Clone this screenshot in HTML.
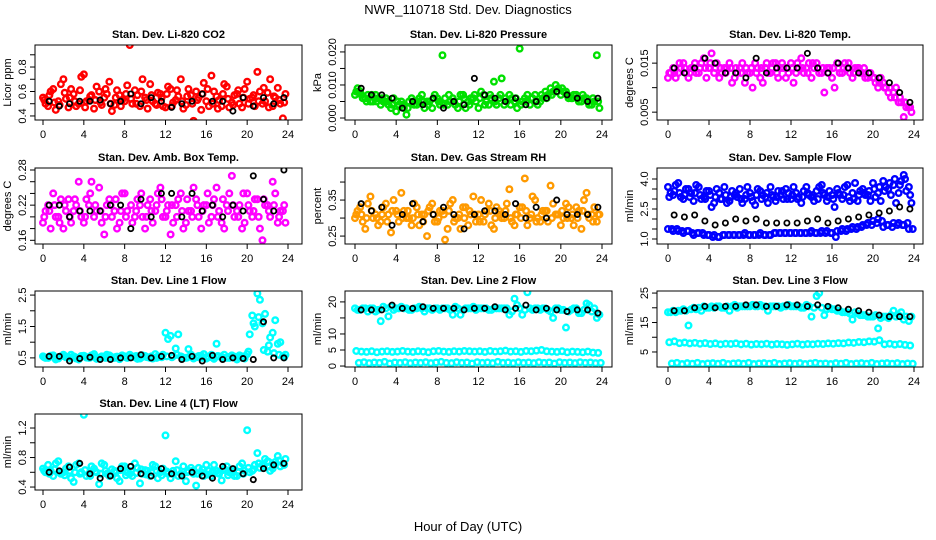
<!DOCTYPE html>
<html><head><meta charset="utf-8"><style>
html,body{margin:0;padding:0;background:#fff;}
svg{display:block;font-family:"Liberation Sans",Arial,sans-serif;}
</style></head><body>
<svg id="chart" width="936" height="540" viewBox="0 0 936 540" xmlns="http://www.w3.org/2000/svg">
<text x="468" y="14" text-anchor="middle" font-size="13">NWR_110718 Std. Dev. Diagnostics</text>
<text x="468" y="531" text-anchor="middle" font-size="13">Hour of Day (UTC)</text>
</svg>
<script>
// ---- data ----
const xTicks = [0,4,8,12,16,20,24];
const co2A = [0.55,0.48,0.62,0.52,0.70,0.47,0.58,0.50,0.74,0.53,0.46,0.60,0.55,0.68,0.49,0.57,0.52,0.98,0.61,0.48,0.55,0.66,0.50,0.58,0.47,0.62,0.53,0.70,0.49,0.57,0.60,0.45,0.52,0.73,0.56,0.48,0.64,0.51,0.58,0.47,0.68,0.55,0.76,0.50,0.59,0.48,0.63,0.38];
const co2B = [0.50,0.60,0.45,0.66,0.54,0.62,0.48,0.72,0.52,0.57,0.64,0.49,0.58,0.44,0.61,0.53,0.65,0.50,0.57,0.70,0.46,0.52,0.59,0.48,0.64,0.51,0.56,0.46,0.62,0.36,0.55,0.67,0.48,0.60,0.53,0.66,0.47,0.57,0.50,0.62,0.54,0.48,0.60,0.52,0.70,0.55,0.50,0.58];
const co2C = [0.53,0.57,0.51,0.49,0.59,0.55,0.52,0.61,0.47,0.56,0.53,0.51,0.62,0.50,0.55,0.48,0.58,0.54,0.50,0.60,0.53,0.57,0.49,0.55,0.58,0.48,0.61,0.52,0.56,0.50,0.53,0.58,0.62,0.50,0.46,0.58,0.54,0.49,0.61,0.55,0.50,0.57,0.52,0.63,0.47,0.56,0.53,0.51];
const co2K = [0.52,0.48,0.50,0.52,0.52,0.53,0.50,0.52,0.58,0.50,0.55,0.52,0.47,0.50,0.52,0.58,0.52,0.52,0.44,0.55,0.48,0.55,0.50,0.55];
const presA = [0.007,0.008,0.006,0.005,0.007,0.004,0.006,0.003,0.002,0.005,0.001,0.006,0.004,0.007,0.005,0.003,0.006,0.019,0.004,0.006,0.003,0.007,0.005,0.006,0.003,0.007,0.004,0.011,0.006,0.004,0.007,0.005,0.021,0.006,0.004,0.007,0.005,0.008,0.009,0.010,0.007,0.008,0.006,0.007,0.005,0.006,0.004,0.019];
const presB = [0.009,0.006,0.007,0.005,0.006,0.005,0.004,0.006,0.004,0.003,0.005,0.004,0.006,0.003,0.005,0.007,0.004,0.006,0.005,0.004,0.007,0.003,0.006,0.005,0.008,0.005,0.006,0.004,0.012,0.005,0.006,0.003,0.005,0.007,0.006,0.004,0.006,0.007,0.008,0.009,0.008,0.006,0.007,0.005,0.006,0.004,0.005,0.003];
const presC = [0.008,0.007,0.005,0.007,0.005,0.006,0.005,0.004,0.005,0.004,0.003,0.005,0.005,0.005,0.004,0.006,0.005,0.004,0.007,0.005,0.005,0.006,0.004,0.007,0.006,0.004,0.007,0.005,0.007,0.006,0.004,0.006,0.004,0.005,0.006,0.005,0.007,0.006,0.007,0.008,0.009,0.007,0.006,0.006,0.007,0.005,0.006,0.005];
const presK = [0.009,0.007,0.007,0.006,0.003,0.005,0.004,0.006,0.003,0.005,0.004,0.012,0.007,0.006,0.005,0.006,0.004,0.005,0.006,0.008,0.007,0.006,0.005,0.006];
const tempA = [0.012,0.014,0.013,0.015,0.012,0.014,0.013,0.016,0.014,0.013,0.012,0.014,0.015,0.012,0.014,0.011,0.013,0.015,0.012,0.014,0.013,0.015,0.014,0.012,0.015,0.013,0.016,0.014,0.012,0.015,0.013,0.014,0.012,0.015,0.013,0.014,0.012,0.014,0.013,0.012,0.012,0.010,0.011,0.009,0.009,0.007,0.004,0.006];
const tempB = [0.013,0.012,0.014,0.013,0.014,0.013,0.015,0.012,0.017,0.015,0.013,0.014,0.011,0.013,0.015,0.013,0.010,0.014,0.011,0.013,0.015,0.012,0.014,0.013,0.011,0.014,0.013,0.015,0.014,0.013,0.009,0.014,0.010,0.013,0.015,0.013,0.014,0.013,0.012,0.013,0.011,0.012,0.010,0.008,0.010,0.007,0.006,0.005];
const tempC = [0.013,0.013,0.015,0.014,0.013,0.015,0.014,0.014,0.015,0.014,0.014,0.013,0.014,0.014,0.013,0.014,0.014,0.013,0.014,0.015,0.014,0.013,0.015,0.014,0.014,0.015,0.014,0.013,0.015,0.014,0.014,0.013,0.014,0.014,0.014,0.015,0.013,0.014,0.014,0.013,0.012,0.011,0.010,0.010,0.008,0.008,0.007,0.006];
const tempK = [0.014,0.013,0.014,0.016,0.015,0.013,0.013,0.012,0.016,0.013,0.014,0.014,0.014,0.017,0.014,0.013,0.015,0.014,0.013,0.013,0.012,0.011,0.009,0.007];
const ambA = [0.19,0.22,0.24,0.20,0.18,0.23,0.21,0.26,0.19,0.22,0.20,0.25,0.17,0.23,0.21,0.19,0.24,0.29,0.20,0.22,0.18,0.23,0.21,0.25,0.20,0.17,0.22,0.24,0.19,0.21,0.23,0.18,0.22,0.20,0.25,0.19,0.22,0.27,0.21,0.18,0.24,0.20,0.23,0.16,0.22,0.26,0.19,0.21];
const ambB = [0.21,0.18,0.20,0.23,0.21,0.19,0.22,0.20,0.23,0.26,0.21,0.19,0.22,0.20,0.18,0.24,0.21,0.19,0.23,0.20,0.22,0.19,0.24,0.20,0.22,0.19,0.23,0.18,0.21,0.25,0.20,0.22,0.19,0.23,0.21,0.18,0.24,0.20,0.22,0.19,0.21,0.23,0.18,0.22,0.20,0.24,0.21,0.19];
const ambC = [0.20,0.21,0.22,0.19,0.22,0.20,0.23,0.21,0.20,0.24,0.22,0.21,0.20,0.22,0.23,0.21,0.20,0.22,0.21,0.24,0.20,0.21,0.22,0.23,0.21,0.22,0.20,0.21,0.23,0.20,0.22,0.21,0.24,0.22,0.20,0.23,0.21,0.22,0.20,0.24,0.22,0.21,0.20,0.23,0.21,0.22,0.20,0.22];
const ambK = [0.22,0.22,0.20,0.21,0.21,0.21,0.22,0.22,0.18,0.23,0.20,0.24,0.24,0.20,0.24,0.21,0.22,0.20,0.22,0.21,0.27,0.23,0.21,0.28];
const rhA = [0.30,0.33,0.27,0.36,0.31,0.29,0.34,0.26,0.32,0.37,0.30,0.28,0.33,0.31,0.25,0.34,0.29,0.32,0.27,0.35,0.30,0.33,0.28,0.36,0.31,0.29,0.34,0.27,0.32,0.30,0.38,0.28,0.33,0.41,0.30,0.35,0.29,0.32,0.39,0.31,0.28,0.34,0.30,0.33,0.27,0.37,0.31,0.29];
const rhB = [0.32,0.29,0.34,0.30,0.28,0.33,0.31,0.35,0.29,0.32,0.30,0.34,0.28,0.31,0.33,0.29,0.32,0.24,0.34,0.30,0.27,0.33,0.31,0.29,0.35,0.32,0.28,0.33,0.30,0.34,0.29,0.31,0.33,0.28,0.36,0.30,0.32,0.29,0.34,0.31,0.30,0.33,0.28,0.32,0.35,0.30,0.33,0.31];
const rhC = [0.31,0.31,0.30,0.32,0.30,0.31,0.29,0.32,0.31,0.30,0.32,0.30,0.31,0.29,0.32,0.31,0.30,0.31,0.32,0.29,0.31,0.30,0.32,0.31,0.29,0.31,0.32,0.30,0.31,0.32,0.30,0.31,0.30,0.32,0.31,0.29,0.31,0.32,0.30,0.31,0.32,0.30,0.31,0.30,0.32,0.31,0.29,0.31];
const rhK = [0.34,0.32,0.33,0.28,0.31,0.34,0.29,0.31,0.33,0.31,0.27,0.31,0.32,0.32,0.31,0.34,0.30,0.33,0.30,0.35,0.31,0.31,0.31,0.33];
const sfUpA = [3.6,3.2,3.8,3.0,3.5,2.9,3.6,3.1,3.4,2.8,3.3,3.6,2.9,3.2,3.5,3.0,3.3,2.7,3.4,3.1,3.6,2.9,3.2,3.5,3.0,3.3,2.8,3.6,3.1,3.4,3.7,2.9,3.2,3.5,3.0,3.7,3.3,2.9,3.5,3.2,3.8,3.3,3.9,3.5,3.7,3.3,4.2,3.6];
const sfUpB = [3.3,3.7,3.1,3.5,3.3,3.7,3.0,3.4,2.6,3.5,3.0,2.8,3.4,3.1,2.8,3.6,2.9,3.5,3.2,2.8,3.1,3.4,3.0,3.3,3.6,3.1,3.4,3.2,2.9,3.6,3.2,3.4,2.6,3.2,3.6,2.9,3.8,3.4,3.2,2.9,3.1,2.9,3.6,3.2,2.8,3.9,3.4,2.8];
const sfUpC = [3.1,3.4,3.3,3.2,3.1,3.3,3.2,3.0,3.2,3.1,3.0,3.2,3.1,3.3,3.0,3.2,3.1,3.2,3.0,3.3,3.2,3.1,3.4,3.0,3.2,3.0,3.1,3.3,3.2,3.0,3.3,3.1,3.0,3.3,3.2,3.1,3.0,3.2,3.3,3.4,3.5,3.6,3.4,3.8,4.0,3.7,4.0,3.2];
const sfLoA = [1.5,1.5,1.4,1.4,1.3,1.3,1.3,1.2,1.1,1.1,1.2,1.2,1.2,1.2,1.2,1.2,1.2,1.2,1.2,1.2,1.3,1.3,1.3,1.3,1.3,1.3,1.3,1.3,1.3,1.3,1.3,1.3,1.1,1.4,1.4,1.5,1.5,1.6,1.7,1.7,1.8,1.9,1.7,1.6,1.7,1.7,1.8,1.5];
const sfLoB = [1.5,1.4,1.4,1.3,1.4,1.2,1.3,1.2,1.2,1.2,1.1,1.2,1.2,1.2,1.2,1.3,1.2,1.2,1.3,1.2,1.2,1.3,1.3,1.3,1.3,1.3,1.3,1.3,1.4,1.3,1.4,1.4,1.3,1.4,1.5,1.5,1.6,1.6,1.7,1.8,1.9,2.0,1.6,1.7,1.8,1.8,1.7,1.5];
const sfK = [2.2,2.1,2.2,1.9,1.7,1.8,2.0,1.9,2.0,1.8,1.8,1.8,1.8,1.9,2.0,1.8,1.9,2.0,2.1,2.2,2.3,2.4,2.6,2.5];
const l1A = [0.55,0.50,0.58,0.48,0.60,0.52,0.55,0.45,0.57,0.50,0.62,0.48,0.53,0.58,0.50,0.46,0.55,0.60,0.52,0.48,0.56,0.50,0.62,0.53,1.30,1.20,0.80,0.55,0.50,0.60,0.52,0.57,0.48,0.60,0.95,0.53,0.50,0.58,0.45,0.55,0.62,1.85,2.55,1.60,0.70,1.30,0.95,0.55];
const l1B = [0.50,0.57,0.45,0.55,0.52,0.60,0.48,0.56,0.51,0.58,0.47,0.55,0.60,0.49,0.54,0.58,0.50,0.55,0.47,0.58,0.52,0.48,0.55,0.60,1.10,0.55,1.25,0.50,0.78,0.48,0.56,0.62,0.52,0.47,0.55,0.60,0.50,0.54,0.58,0.48,1.25,1.50,2.35,1.90,1.15,1.70,1.00,0.60];
const l1C = [0.52,0.54,0.51,0.53,0.56,0.50,0.53,0.52,0.55,0.51,0.54,0.52,0.50,0.55,0.53,0.51,0.52,0.54,0.56,0.51,0.53,0.55,0.50,0.52,0.55,0.52,0.60,0.53,0.51,0.55,0.53,0.50,0.54,0.52,0.56,0.51,0.53,0.55,0.52,0.50,0.70,1.60,1.80,0.75,0.90,0.65,0.60,0.52];
const l1K = [0.55,0.55,0.40,0.48,0.52,0.45,0.45,0.50,0.50,0.60,0.50,0.55,0.58,0.45,0.55,0.40,0.58,0.45,0.50,0.48,0.45,1.65,0.50,0.50];
const l2TopA = [18,17.5,18,18,17,14,18,18.5,18,18.5,18,17.5,18,18,18,17.5,18,18,18,16,18,17.5,18,18.5,18,18,17.5,18,18,18,16,21,18,17.5,18,18,17.5,18,17,18,17.5,12,17.5,18,16.5,19.5,17,15];
const l2TopB = [17.5,18,17,18,17.5,18.5,15.5,17.5,18,18,17.5,18,18.5,17,18,18,17.5,18,17.5,18.5,16,18,18,17.5,18,18,17.5,18,18,18,17,19,16,23,17.5,18,18,17.5,15,18,17.5,17,18,16.5,17.5,19,18,16];
const l2Mid = [4.7,4.5,4.4,4.6,4.3,4.5,4.6,4.4,4.5,4.7,4.5,4.4,4.6,4.5,4.3,4.6,4.7,4.5,4.4,4.6,4.5,4.7,4.6,4.5,4.6,4.4,4.7,4.5,4.6,4.8,4.5,4.6,4.4,4.7,4.6,4.8,5.0,4.6,4.5,4.4,4.6,4.3,4.5,4.4,4.3,4.5,4.2,4.1];
const l2Low = [1.0,1.2,0.9,1.1,1.0,1.3,0.8,1.1,1.0,1.2,0.9,1.1,1.0,1.2,0.9,1.1,1.3,1.0,0.9,1.2,1.0,1.1,0.8,1.2,1.0,1.1,0.9,1.3,1.0,1.1,0.9,1.2,1.0,1.1,0.9,1.2,1.0,1.1,0.8,1.2,1.0,1.1,0.9,1.2,1.0,1.1,0.9,1.0];
const l2K = [17.5,17.5,17.5,19,18,18,18.5,18,18,18,17.5,18,18,18.5,17.5,18,19,17.5,18,17.5,17,17.5,17.5,16.5];
const l3TopA = [18.5,19,19,19.5,14,20,20,20.5,20,20,20.5,20,19,21,20.5,20.5,20.5,20.5,21,20.5,20.5,20.5,20,20.5,20.5,20.5,20,21,17,24,20,19.5,19.5,19,18.5,18.5,16,18,17.5,17,17,13,17,16.5,19,17.5,16,15.5];
const l3TopB = [18.5,18.5,19,19,19.5,19.5,19,20,20.5,20.5,20,20.5,20.5,20,20.5,20.5,21,20.5,20.5,19,20.5,20.5,20.5,21,20.5,20.5,20,20.5,20,25,17.5,20,19.5,19,18.5,18,18.5,17.5,17.5,17,17.5,16.5,17,17.5,17,18.5,17,17];
const l3Mid = [8.3,8.6,8.0,8.2,7.9,8.1,7.8,8.0,7.7,7.9,7.6,7.8,7.7,7.9,7.6,7.8,7.5,7.7,7.6,7.8,7.5,7.7,7.6,7.4,7.6,7.8,7.5,7.7,7.6,7.8,7.7,7.9,7.8,8.0,7.9,8.2,8.1,8.4,8.3,8.6,8.5,9.0,7.6,7.8,7.5,7.7,7.4,7.2];
const l3Low = [1.1,1.3,0.9,1.2,1.0,1.3,0.9,1.1,1.2,1.0,1.3,0.9,1.1,1.2,1.0,1.3,0.9,1.1,1.2,1.0,1.3,0.9,1.1,1.2,1.0,1.2,0.9,1.1,1.3,1.0,1.1,0.9,1.2,1.0,1.3,0.9,1.1,1.2,1.0,1.3,0.9,1.1,1.2,1.0,1.2,0.9,1.1,1.0];
const l3K = [19,19,20,20.5,20,20.5,20.5,21,21,20.5,20.5,21,21,20.5,21,20.5,20,19.5,19,18.5,17.5,17,17,17];
const l4A = [0.65,0.70,0.55,0.75,0.60,0.68,0.47,0.72,1.38,0.58,0.65,0.44,0.70,0.55,0.62,0.48,0.68,0.58,0.72,0.45,0.63,0.55,0.68,0.60,1.10,0.52,0.75,0.58,0.48,0.66,0.42,0.60,0.70,0.55,0.62,0.49,0.68,0.60,0.55,0.72,1.17,0.62,0.86,0.70,0.75,0.65,0.82,0.72];
const l4B = [0.60,0.62,0.72,0.58,0.65,0.52,0.70,0.60,0.55,0.68,0.60,0.72,0.58,0.64,0.52,0.68,0.60,0.55,0.66,0.58,0.62,0.70,0.52,0.65,0.58,0.62,0.55,0.68,0.62,0.58,0.66,0.55,0.62,0.70,0.58,0.65,0.60,0.55,0.68,0.62,0.60,0.70,0.66,0.78,0.62,0.74,0.68,0.78];
const l4C = [0.62,0.58,0.64,0.60,0.56,0.62,0.60,0.58,0.63,0.55,0.61,0.58,0.62,0.57,0.60,0.63,0.56,0.62,0.59,0.64,0.57,0.60,0.62,0.56,0.61,0.58,0.63,0.57,0.60,0.62,0.58,0.64,0.57,0.61,0.59,0.63,0.56,0.62,0.60,0.58,0.66,0.64,0.72,0.68,0.74,0.70,0.76,0.70];
const l4K = [0.60,0.62,0.67,0.72,0.58,0.52,0.55,0.65,0.68,0.58,0.55,0.65,0.58,0.55,0.60,0.55,0.52,0.68,0.65,0.58,0.50,0.65,0.70,0.72];

// ---- layout ----
const NS = "http://www.w3.org/2000/svg";
const svg = document.getElementById('chart');
const cols = [{l:35,r:302,x0:43,x24:288},{l:345,r:612,x0:355,x24:602},{l:657,r:923,x0:668,x24:914}];
const rows = [{t:45,b:120},{t:168,b:244},{t:291,b:367},{t:414,b:490}];
const seriesOffsets = [0,0.25,0.125,0.375];
function el(tag, attrs, parent){const e=document.createElementNS(NS,tag);for(const k in attrs)e.setAttribute(k,attrs[k]);(parent||svg).appendChild(e);return e;}

const panels = [
 {name:'co2',title:'Stan. Dev. Li-820 CO2',ylab:'Licor ppm',c:0,r:0,ymin:0.367,ymax:0.98,ticks:[0.4,0.5,0.6,0.7,0.8,0.9],labels:[0.4,0.6,0.8],fmt:1,color:'#ff0000',series:[co2A,co2B,co2C],black:co2K},
 {name:'pressure',title:'Stan. Dev. Li-820 Pressure',ylab:'kPa',c:1,r:0,ymin:-0.0006,ymax:0.0221,ticks:[0,0.005,0.01,0.015,0.02],labels:[0,0.01,0.02],fmt:3,color:'#00e000',series:[presA,presB,presC],black:presK},
 {name:'li820-temp',title:'Stan. Dev. Li-820 Temp.',ylab:'degrees C',c:2,r:0,ymin:0.0034,ymax:0.0187,ticks:[0.005,0.01,0.015],labels:[0.005,0.015],fmt:3,color:'#ff00ff',series:[tempA,tempB,tempC],black:tempK},
 {name:'amb-box-temp',title:'Stan. Dev. Amb. Box Temp.',ylab:'degrees C',c:0,r:1,ymin:0.1537,ymax:0.2834,ticks:[0.16,0.18,0.2,0.22,0.24,0.26,0.28],labels:[0.16,0.22,0.28],fmt:2,color:'#ff00ff',series:[ambA,ambB,ambC],black:ambK},
 {name:'gas-stream-rh',title:'Stan. Dev. Gas Stream RH',ylab:'percent',c:1,r:1,ymin:0.228,ymax:0.439,ticks:[0.25,0.3,0.35,0.4],labels:[0.25,0.35],fmt:2,color:'#ff9a00',series:[rhA,rhB,rhC],black:rhK},
 {name:'sample-flow',title:'Stan. Dev. Sample Flow',ylab:'ml/min',c:2,r:1,ymin:0.75,ymax:4.55,ticks:[1,1.5,2,2.5,3,3.5,4],labels:[1,2.5,4],fmt:1,color:'#0000ff',series:[sfUpA,sfUpB,sfUpC,sfLoA,sfLoB],black:sfK},
 {name:'line1-flow',title:'Stan. Dev. Line 1 Flow',ylab:'ml/min',c:0,r:2,ymin:0.21,ymax:2.63,ticks:[0.5,1,1.5,2,2.5],labels:[0.5,1.5,2.5],fmt:1,color:'#00ffff',series:[l1A,l1B,l1C],black:l1K},
 {name:'line2-flow',title:'Stan. Dev. Line 2 Flow',ylab:'ml/min',c:1,r:2,ymin:-0.3,ymax:23.4,ticks:[0,5,10,15,20],labels:[0,5,10,20],fmt:0,color:'#00ffff',series:[l2TopA,l2TopB,l2Mid,l2Low],black:l2K},
 {name:'line3-flow',title:'Stan. Dev. Line 3 Flow',ylab:'ml/min',c:2,r:2,ymin:-0.1,ymax:25.7,ticks:[5,10,15,20,25],labels:[5,15,25],fmt:0,color:'#00ffff',series:[l3TopA,l3TopB,l3Mid,l3Low],black:l3K},
 {name:'line4-flow',title:'Stan. Dev. Line 4 (LT) Flow',ylab:'ml/min',c:0,r:3,ymin:0.36,ymax:1.39,ticks:[0.4,0.6,0.8,1,1.2],labels:[0.4,0.8,1.2],fmt:1,color:'#00ffff',series:[l4A,l4B,l4C],black:l4K}
];

panels.forEach(p=>{
  const C=cols[p.c], R=rows[p.r];
  const g=el('g',{});
  
  
  const xs=h=>C.x0+(C.x24-C.x0)*h/24;
  const ys=v=>R.b-(v-p.ymin)/(p.ymax-p.ymin)*(R.b-R.t);
  const t=el('text',{x:(C.l+C.r)/2,y:R.t-7,'text-anchor':'middle','font-size':11,'font-weight':'bold'},g);
  t.textContent=p.title;
  
  
  const cp=el('clipPath',{id:'cp'+p.name},g);
  el('rect',{x:C.l,y:R.t,width:C.r-C.l,height:R.b-R.t},cp);
  const pts=el('g',{'clip-path':'url(#cp'+p.name+')'},g);
  p.series.forEach((s,si)=>{
    const off=seriesOffsets[si%4];
    s.forEach((v,i)=>{
      const h=i*0.5+off;
      const c=el('circle',{cx:xs(h),cy:ys(v),r:2.8,fill:'none',stroke:p.color,'stroke-width':2.4},pts);
      
      
    });
  });
  p.black.forEach((v,i)=>{
    const c=el('circle',{cx:xs(i+0.6),cy:ys(v),r:2.6,fill:'none',stroke:'#000','stroke-width':1.8},pts);
    
    
  });
  el('rect',{x:C.l,y:R.t,width:C.r-C.l,height:R.b-R.t,fill:'none',stroke:'#000','stroke-width':1},g);
  el('line',{x1:xs(0),x2:xs(24),y1:R.b,y2:R.b,stroke:'#000'},g);
  xTicks.forEach(h=>{
    el('line',{x1:xs(h),x2:xs(h),y1:R.b,y2:R.b+5,stroke:'#000'},g);
    const tx=el('text',{x:xs(h),y:R.b+18,'text-anchor':'middle','font-size':11},g);
    tx.textContent=h;
    
    
  });
  p.ticks.forEach(v=>{
    el('line',{x1:C.l-5,x2:C.l,y1:ys(v),y2:ys(v),stroke:'#000'},g);
  });
  p.labels.forEach(v=>{
    const yy=ys(v), xx=C.l-9;
    const tx=el('text',{x:xx,y:yy,'text-anchor':'middle','font-size':11,transform:'rotate(-90 '+xx+' '+yy+')'},g);
    tx.textContent=v.toFixed(p.fmt);
    
    
  });
  const yl=C.l-24, ym=(R.t+R.b)/2;
  const ytt=el('text',{x:yl,y:ym,'text-anchor':'middle','font-size':11,transform:'rotate(-90 '+yl+' '+ym+')'},g);
  ytt.textContent=p.ylab;
  
  
});
</script>
</body></html>
